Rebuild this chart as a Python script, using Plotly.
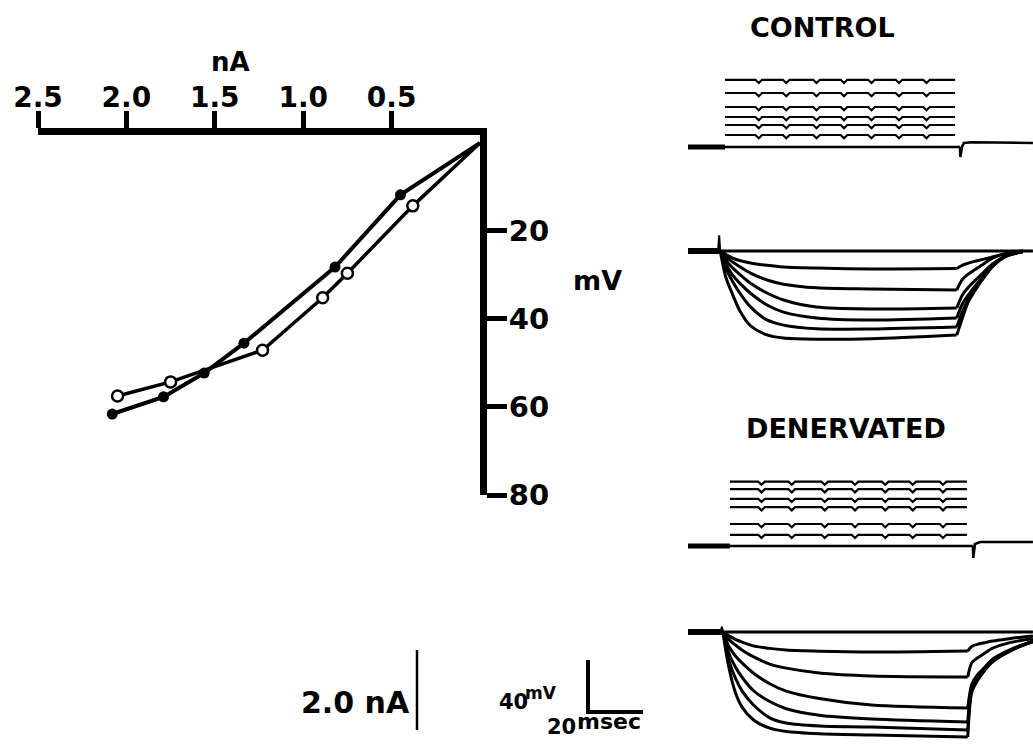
import plotly.graph_objects as go

# ---------------- current-voltage relation ----------------
# hyperpolarizing current (nA) against membrane hyperpolarization (mV)
FILLED_NA = [0.45, 0.82, 1.335, 1.56, 1.79, 2.08]
FILLED_MV = [11.8, 28.2, 45.5, 52.3, 57.7, 61.6]
OPEN_NA = [0.38, 0.75, 0.89, 1.23, 1.75, 2.05]
OPEN_MV = [14.3, 29.6, 35.2, 47.1, 54.3, 57.5]

NA_TICKS = [2.5, 2.0, 1.5, 1.0, 0.5]
NA_TICK_TEXT = ["2.5", "2.0", "1.5", "1.0", "0.5"]
MV_TICKS = [20, 40, 60, 80]
MV_TICK_TEXT = ["20", "40", "60", "80"]

# ---------------- intracellular records ----------------
# control: injected current steps (nA) and timing (msec)
CTRL_STEP_NA = [1.68, 1.35, 1.0, 0.75, 0.55, 0.30]
CTRL_STEP_ON, CTRL_STEP_OFF = 12.7, 96.4
CTRL_NOTCH_MS = [25, 35, 46, 56, 66, 76, 86]
CTRL_I_TAIL_MS = [98.2, 98.3, 98.9, 99.6, 102.5, 124.7]
CTRL_I_TAIL_NA = [0.0, -0.25, 0.0, 0.1, 0.12, 0.1]

# control: voltage responses (mV), charging and recovery phases
CTRL_ON_MS = [11, 13, 15.5, 18, 22, 28, 34, 46, 66, 97]
CTRL_ON_MV = [
    [0, -2.5, -5.5, -7.3, -9.2, -11, -12.3, -13.1, -13.8, -13.5],
    [0, -4.5, -8.5, -12, -17, -22.3, -25.5, -28.3, -29.2, -30],
    [0, -7, -13, -17.8, -24.8, -32.3, -37.7, -43.1, -44.6, -43.8],
    [0, -10, -18.5, -24.5, -32.5, -41.5, -47, -51.5, -53.1, -51.5],
    [0, -13, -23.5, -32, -43, -53, -57, -59.8, -60, -58.5],
    [0, -20, -33.5, -45.5, -57.5, -64.5, -66.9, -67.8, -67.5, -64.6],
]
CTRL_OFF_MS = [97, 99, 101, 103.5, 106, 110, 115, 121]
CTRL_OFF_MV = [
    [-13.5, -11, -9.5, -8, -6.7, -4.5, -2, 0],
    [-30, -22, -18, -14.5, -11, -5.5, -1.8, 0],
    [-43.8, -34, -28.5, -23, -18, -10, -3.5, -0.5],
    [-51.5, -41, -34.5, -27.5, -21, -11, -3.8, -0.5],
    [-58.5, -47, -38, -29.5, -22, -11.5, -4, -0.5],
    [-64.6, -52, -40, -31, -23, -12, -4, -0.5],
]
CTRL_V_START, CTRL_V_END = -0.7, 124.7
CTRL_ARTIFACT_MS = [10.2, 10.6, 11.0]
CTRL_ARTIFACT_MV = [0, 12, 0]

# denervated: injected current steps
DEN_STEP_NA = [1.61, 1.42, 1.18, 0.97, 0.55, 0.28]
DEN_STEP_ON, DEN_STEP_OFF = 14.5, 100.7
DEN_NOTCH_MS = [26, 37, 49, 60, 71, 81, 92]
DEN_I_TAIL_MS = [102.9, 103.0, 103.6, 105.5, 124.7]
DEN_I_TAIL_NA = [0.0, -0.3, 0.05, 0.1, 0.1]

# denervated: voltage responses
DEN_ON_MS = [12, 14, 16.5, 19, 23, 29, 35, 47, 66, 101]
DEN_ON_MV = [
    [0, -2.8, -5.6, -7.8, -10.7, -12.6, -13.9, -14.8, -15.4, -14.6],
    [0, -5.5, -10, -14, -19, -24.7, -27.8, -31.5, -33.8, -34.6],
    [0, -10.5, -18.5, -24, -31.5, -39.8, -45.5, -51.2, -56.2, -58.5],
    [0, -15.5, -27, -35, -45, -53.5, -59, -64, -66.9, -69.2],
    [0, -21, -35.5, -45.5, -56, -66, -70, -72.3, -73.1, -75.4],
    [0, -26, -46.5, -58, -67.5, -74, -76.5, -78.2, -79.2, -80.8],
]
DEN_OFF_MS = [101, 102.5, 104.5, 107, 110, 114, 119, 124.7]
DEN_OFF_MV = [
    [-14.6, -11, -9.5, -8.3, -7, -5.8, -4.3, -3],
    [-34.6, -23.5, -20, -16.5, -12.5, -9.5, -7, -5.2],
    [-58.5, -40, -33, -27.5, -21, -16, -11.2, -7.2],
    [-69.2, -43, -35.5, -29, -22, -16.8, -11.6, -7.3],
    [-75.4, -44.5, -36.5, -29.5, -22.5, -17, -11.8, -7.4],
    [-80.8, -46, -37.5, -30, -23, -17.5, -12, -7.5],
]
DEN_V_START, DEN_V_END = -0.7, 124.7
DEN_ARTIFACT_MS = [11.2, 11.6, 12.0]
DEN_ARTIFACT_MV = [0, 4, 0]

# calibration bars
CAL_NA = 2.0
CAL_MV = 40
CAL_MS = 20

# ---------------- page geometry ----------------
W, H = 1033, 746
PX_PER_MS = 2.75
PX_PER_MV = 1.3
PX_PER_NA = 40.0
SWEEP_X0 = 690          # pixel column of t = 0 in the records
BLACK = "#000000"
FONT = "DejaVu Sans"


def fx(px):
    return px / W


def fy(py):
    return 1 - py / H


def vdomain(base_px, lo, hi, ppu):
    """Vertical domain for an axis whose zero sits at base_px."""
    return [max(0.0, fy(base_px - lo * ppu)), min(1.0, fy(base_px - hi * ppu))]


fig = go.Figure()

# ---------------- I-V plot ----------------
fig.add_trace(go.Scatter(x=[0] + FILLED_NA, y=[0] + FILLED_MV, mode="lines",
                         line=dict(color=BLACK, width=4), xaxis="x", yaxis="y",
                         hoverinfo="skip"))
fig.add_trace(go.Scatter(x=[0] + OPEN_NA, y=[0] + OPEN_MV, mode="lines",
                         line=dict(color=BLACK, width=3.5), xaxis="x", yaxis="y",
                         hoverinfo="skip"))
fig.add_trace(go.Scatter(x=FILLED_NA, y=FILLED_MV, mode="markers", cliponaxis=False,
                         marker=dict(size=11, color=BLACK, line=dict(width=0)),
                         xaxis="x", yaxis="y"))
fig.add_trace(go.Scatter(x=OPEN_NA, y=OPEN_MV, mode="markers", cliponaxis=False,
                         marker=dict(size=11, color="white", line=dict(color=BLACK, width=2.5)),
                         xaxis="x", yaxis="y"))

# ---------------- records ----------------
def add_line(x, y, yaxis, width, shape="linear"):
    fig.add_trace(go.Scatter(x=x, y=y, mode="lines", xaxis="x2", yaxis=yaxis,
                             line=dict(color=BLACK, width=width, shape=shape, smoothing=0.8),
                             hoverinfo="skip"))


def add_steps(levels, t_on, t_off, notches, yaxis):
    half, depth = 1.2, 0.08
    for lvl in levels:
        xs, ys = [t_on], [lvl]
        for n in notches:
            if t_on < n - half and n + half < t_off:
                xs += [n - half, n, n + half]
                ys += [lvl, lvl - depth, lvl]
        xs.append(t_off)
        ys.append(lvl)
        add_line(xs, ys, yaxis, 2.2)


def add_current_panel(levels, t_on, t_off, notches, tail_t, tail_i, yaxis):
    add_line([CTRL_V_START, tail_t[0]], [0, 0], yaxis, 2.6)
    add_line([CTRL_V_START, t_on], [0, 0], yaxis, 5)
    add_line(tail_t, tail_i, yaxis, 2.6)
    add_steps(levels, t_on, t_off, notches, yaxis)


def add_voltage_panel(on_t, on_v, off_t, off_v, t0, t1, art_t, art_v, yaxis):
    add_line([t0, t1], [0, 0], yaxis, 3)
    add_line([t0, on_t[0]], [0, 0], yaxis, 6)
    add_line(art_t, art_v, yaxis, 2)
    for a, b in zip(on_v, off_v):
        add_line(on_t, a, yaxis, 3, "spline")
        add_line(off_t, b, yaxis, 3, "spline")


add_current_panel(CTRL_STEP_NA, CTRL_STEP_ON, CTRL_STEP_OFF, CTRL_NOTCH_MS,
                  CTRL_I_TAIL_MS, CTRL_I_TAIL_NA, "y2")
add_voltage_panel(CTRL_ON_MS, CTRL_ON_MV, CTRL_OFF_MS, CTRL_OFF_MV,
                  CTRL_V_START, CTRL_V_END, CTRL_ARTIFACT_MS, CTRL_ARTIFACT_MV, "y3")
add_current_panel(DEN_STEP_NA, DEN_STEP_ON, DEN_STEP_OFF, DEN_NOTCH_MS,
                  DEN_I_TAIL_MS, DEN_I_TAIL_NA, "y4")
add_voltage_panel(DEN_ON_MS, DEN_ON_MV, DEN_OFF_MS, DEN_OFF_MV,
                  DEN_V_START, DEN_V_END, DEN_ARTIFACT_MS, DEN_ARTIFACT_MV, "y5")

# ---------------- calibration bars ----------------
fig.add_trace(go.Scatter(x=[0, 0, CAL_MS], y=[CAL_MV, 0, 0], mode="lines",
                         line=dict(color=BLACK, width=4), xaxis="x3", yaxis="y6",
                         hoverinfo="skip"))
fig.add_trace(go.Scatter(x=[0, 0], y=[0, CAL_NA], mode="lines",
                         line=dict(color=BLACK, width=2.5), xaxis="x4", yaxis="y7",
                         hoverinfo="skip"))

hidden = dict(visible=False, showgrid=False, zeroline=False, fixedrange=True,
              automargin=False)
pad = 3  # calibration-bar axis padding (units)

layout = dict(
    width=W, height=H,
    margin=dict(l=0, r=0, t=0, b=0, pad=0, autoexpand=False),
    paper_bgcolor="white", plot_bgcolor="rgba(0,0,0,0)", showlegend=False,
    xaxis=dict(domain=[fx(38), fx(480)], range=[2.5, 0], side="top", anchor="y",
               automargin=False,
               showline=True, linecolor=BLACK, linewidth=7, showgrid=False, zeroline=False,
               ticks="outside", ticklen=17, tickwidth=5, tickcolor=BLACK,
               ticklabelstandoff=-7,
               tickvals=NA_TICKS, ticktext=NA_TICK_TEXT,
               tickfont=dict(family=FONT, size=28, color=BLACK, weight="bold")),
    yaxis=dict(domain=[fy(495), fy(135)], range=[80, -1.8], side="right", anchor="x",
               automargin=False,
               showline=True, linecolor=BLACK, linewidth=7, showgrid=False, zeroline=False,
               ticks="outside", ticklen=20, tickwidth=5, tickcolor=BLACK,
               ticklabelstandoff=-4,
               tickvals=MV_TICKS, ticktext=MV_TICK_TEXT,
               tickfont=dict(family=FONT, size=29, color=BLACK, weight="bold")),
    xaxis2=dict(hidden, domain=[fx(680), 1.0], anchor="y2",
                range=[(680 - SWEEP_X0) / PX_PER_MS, (W - SWEEP_X0) / PX_PER_MS]),
    yaxis2=dict(hidden, anchor="x2", range=[-0.5, 2.0],
                domain=vdomain(147, -0.5, 2.0, PX_PER_NA)),
    yaxis3=dict(hidden, anchor="x2", range=[-75, 15],
                domain=vdomain(251, -75, 15, PX_PER_MV)),
    yaxis4=dict(hidden, anchor="x2", range=[-0.5, 2.0],
                domain=vdomain(546, -0.5, 2.0, PX_PER_NA)),
    yaxis5=dict(hidden, anchor="x2", range=[-87, 10],
                domain=vdomain(632, -87, 10, PX_PER_MV)),
    xaxis3=dict(hidden, anchor="y6", range=[-pad, CAL_MS + pad],
                domain=[fx(588 - pad * PX_PER_MS), fx(588 + (CAL_MS + pad) * PX_PER_MS)]),
    yaxis6=dict(hidden, anchor="x3", range=[-pad, CAL_MV + pad],
                domain=vdomain(712, -pad, CAL_MV + pad, PX_PER_MV)),
    xaxis4=dict(hidden, anchor="y7", range=[-1, 1], domain=[fx(407), fx(427)]),
    yaxis7=dict(hidden, anchor="x4", range=[-0.1, CAL_NA + 0.1],
                domain=vdomain(730, -0.1, CAL_NA + 0.1, PX_PER_NA)),
)
fig.update_layout(**layout)


def label(text, px, py, size):
    fig.add_annotation(text=text, x=fx(px), y=fy(py), xref="paper", yref="paper",
                       xanchor="center", yanchor="middle", showarrow=False,
                       font=dict(family=FONT, size=size, color=BLACK, weight="bold"))


label("nA", 230, 62, 26)
label("mV", 597, 280, 27)
label("CONTROL", 822, 27, 27)
label("DENERVATED", 846, 428, 27)
label("2.0 nA", 355, 702, 30)
label("40", 513, 702, 21)
label("mV", 541, 693, 17)
label("20", 561, 727, 21)
label("msec", 609, 721, 22)

fig.write_html("out.html")
